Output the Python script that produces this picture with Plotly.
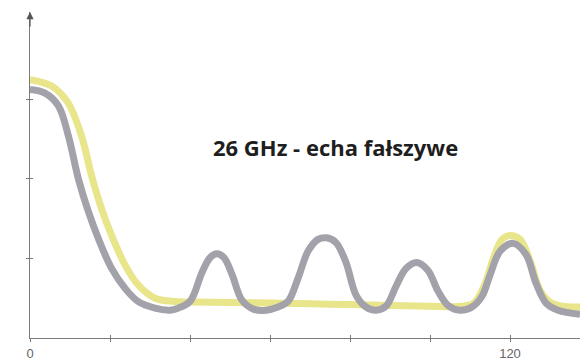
import plotly.graph_objects as go

# Echo amplitude vs. distance, 26 GHz radar
gray_x = [0, 3.75, 7.1, 9.6, 12.1, 14.6, 17.1, 20.4, 23.75, 27, 31.25, 35,
          37, 40, 43, 45, 46.7, 48.5, 50.5, 53, 56, 59, 62,
          64.5, 67, 69.5, 72, 74.2, 76.5, 79, 81.5, 84, 86.5, 89,
          91.5, 94, 96.7, 99.5, 102, 104.5, 107.5,
          110.5, 113, 115, 117.5, 120.8, 124, 126.5, 129, 132, 137.5]
gray_y = [3.125, 3.08, 2.92, 2.54, 2.0, 1.59, 1.25, 0.875, 0.625, 0.46, 0.375, 0.35,
          0.375, 0.46, 0.825, 1.01, 1.06, 1.01, 0.8, 0.475, 0.36, 0.35, 0.39,
          0.46, 0.75, 1.09, 1.24, 1.26, 1.2, 0.95, 0.54, 0.39, 0.35, 0.4,
          0.65, 0.875, 0.95, 0.85, 0.59, 0.41, 0.35,
          0.39, 0.525, 0.79, 1.09, 1.19, 1.05, 0.69, 0.44, 0.35, 0.3]

yellow_x = [0, 5.4, 9.5, 12.9, 15.4, 17.9, 20.4, 23.75, 27, 31.25, 36, 45, 60,
            75, 90, 100, 108, 111, 113.5, 116, 118, 120, 122.5, 125, 127.5,
            130, 133, 137.5]
yellow_y = [3.25, 3.17, 2.96, 2.54, 2.04, 1.625, 1.29, 0.92, 0.67, 0.5, 0.46, 0.45,
            0.44, 0.425, 0.41, 0.4, 0.4, 0.44, 0.65, 1.025, 1.24, 1.29, 1.24,
            0.975, 0.6, 0.45, 0.4, 0.39]

x_ticks = [0, 20, 40, 60, 80, 100, 120]
x_tick_labels = ["0", "", "", "", "", "", "120"]
y_ticks = [1, 2, 3]

title_text = "26 GHz - echa fałszywe"

fig = go.Figure()
fig.add_trace(go.Scatter(x=yellow_x, y=yellow_y, mode="lines",
                         line=dict(color="#e9e58a", width=7, shape="spline", smoothing=1),
                         hoverinfo="skip", showlegend=False))
fig.add_trace(go.Scatter(x=gray_x, y=gray_y, mode="lines",
                         line=dict(color="#a3a2aa", width=7, shape="spline", smoothing=1),
                         hoverinfo="skip", showlegend=False))

axis_col = "#7a7a7a"
fig.update_layout(
    width=580, height=361,
    margin=dict(l=30, r=0, t=12, b=21),
    paper_bgcolor="white", plot_bgcolor="white",
    xaxis=dict(range=[0, 137.5], showgrid=False, zeroline=False,
               showline=True, linecolor=axis_col, linewidth=1,
               tickmode="array", tickvals=x_ticks, ticktext=x_tick_labels,
               ticks="outside", ticklen=3, tickcolor=axis_col, tickwidth=1,
               tickfont=dict(family="Liberation Sans, Arial", size=13, color="#666"),
               fixedrange=True),
    xaxis2=dict(range=[0, 137.5], overlaying="x", anchor="y", side="bottom",
                showgrid=False, zeroline=False, showline=False,
                tickmode="array", tickvals=x_ticks, showticklabels=False,
                ticks="inside", ticklen=3, tickcolor=axis_col, tickwidth=1),
    yaxis=dict(range=[0, 4.1], showgrid=False, zeroline=False,
               showline=True, linecolor=axis_col, linewidth=1,
               tickmode="array", tickvals=y_ticks, showticklabels=False,
               ticks="outside", ticklen=3, tickcolor=axis_col, tickwidth=1,
               fixedrange=True),
    yaxis2=dict(range=[0, 4.1], overlaying="y", anchor="x", side="left",
                showgrid=False, zeroline=False, showline=False,
                tickmode="array", tickvals=y_ticks, showticklabels=False,
                ticks="inside", ticklen=3, tickcolor=axis_col, tickwidth=1),
)
# empty trace to activate the secondary tick axes
fig.add_trace(go.Scatter(x=[None], y=[None], xaxis="x2", yaxis="y2",
                         showlegend=False, hoverinfo="skip"))

# arrow on top of the vertical axis
fig.add_annotation(x=0, y=4.1, ax=0, ay=3.9, xref="x", yref="y", axref="x", ayref="y",
                   showarrow=True, arrowhead=2, arrowsize=1.2, arrowwidth=1.2,
                   arrowcolor="#555", text="")

fig.add_annotation(x=76.25, y=2.4, xref="x", yref="y", text="<b>" + title_text + "</b>",
                   showarrow=False,
                   font=dict(family="Open Sans", size=22, color="#1e1e1e"))

fig.write_html("out.html")
